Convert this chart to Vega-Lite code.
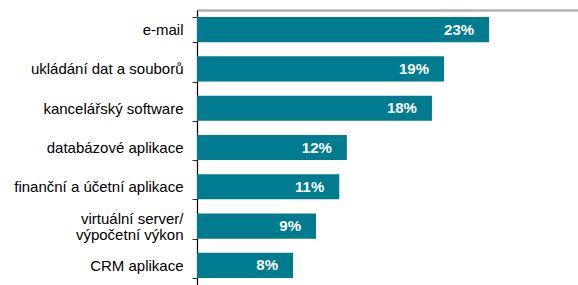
{
  "$schema": "https://vega.github.io/schema/vega-lite/v6.json",
  "autosize": {"type": "none"},
  "padding": {"left": 197, "top": 10, "right": 0, "bottom": 0},
  "width": 381,
  "height": 275,
  "background": "white",
  "config": {"view": {"stroke": null}, "font": "Liberation Sans"},
  "data": {"values": [
    {"kategorie": "e-mail", "podil": 23.0, "popisek": "23%"},
    {"kategorie": "ukládání dat a souborů", "podil": 19.45, "popisek": "19%"},
    {"kategorie": "kancelářský software", "podil": 18.5, "popisek": "18%"},
    {"kategorie": "databázové aplikace", "podil": 11.8, "popisek": "12%"},
    {"kategorie": "finanční a účetní aplikace", "podil": 11.2, "popisek": "11%"},
    {"kategorie": "virtuální server/|výpočetní výkon", "podil": 9.37, "popisek": "9%"},
    {"kategorie": "CRM aplikace", "podil": 7.56, "popisek": "8%"}
  ]},
  "encoding": {
    "y": {"field": "kategorie", "type": "nominal", "sort": null,
      "scale": {"paddingInner": 0.36, "paddingOuter": 0.18},
      "axis": {"title": null,
        "labelExpr": "isValid(datum.value) ? split(datum.value, '|') : ''",
        "labelFontSize": 15, "labelColor": "#000000",
        "labelFont": "Liberation Sans", "labelPadding": 9, "labelLineHeight": 16,
        "labelOffset": {"condition": {"test": "indexof(datum.value || '', '|') >= 0", "value": -8}, "value": 0},
        "ticks": true, "tickBand": "extent", "tickSize": 5, "tickWidth": 1, "tickColor": "#333333",
        "domainColor": "#000000", "domainWidth": 1.2}},
    "x": {"field": "podil", "type": "quantitative", "scale": {"domain": [0, 30], "nice": false},
      "axis": {"orient": "top", "title": null, "labels": false, "ticks": false, "grid": false,
        "domainColor": "#b3b3b3", "domainWidth": 2.5}}
  },
  "layer": [
    {"mark": {"type": "bar", "color": "#007B8F"}},
    {"mark": {"type": "text", "align": "right", "baseline": "middle", "dx": -15, "color": "white", "fontWeight": "bold", "fontSize": 15, "font": "Liberation Sans"},
     "encoding": {"text": {"field": "popisek"}}}
  ]
}
